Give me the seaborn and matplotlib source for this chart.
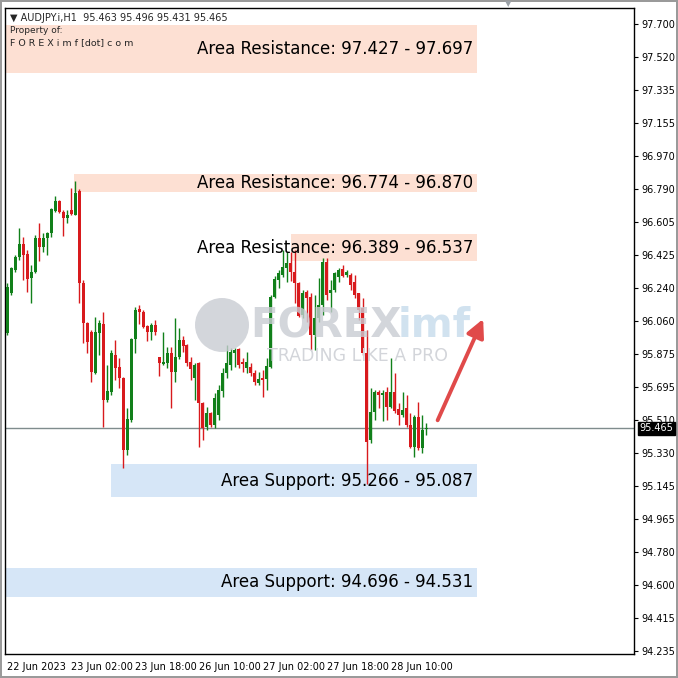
import numpy as np
import matplotlib
matplotlib.use("Agg")
import matplotlib.pyplot as plt
from matplotlib.patches import Rectangle, Circle
import seaborn as sns

# AUDJPY.i H1 candles, 22 Jun 10:00 -> 28 Jun 19:00
opens = [
    95.992, 96.213, 96.340, 96.413, 96.484, 96.429, 96.296, 96.329, 96.517, 96.467,
    96.517, 96.545, 96.666, 96.722, 96.661, 96.628, 96.672, 96.644, 96.777, 96.268,
    96.047, 95.998, 95.771, 95.992, 96.042, 95.622, 95.666, 95.871, 95.804, 95.743,
    95.346, 95.511, 95.959, 96.124, 96.108, 96.031, 95.998, 96.036, 95.860, 95.821,
    95.826, 95.882, 95.777, 95.860, 95.953, 95.926, 95.832, 95.743, 95.826, 95.605,
    95.473, 95.550, 95.484, 95.539, 95.672, 95.771, 95.815, 95.882, 95.904, 95.832,
    95.799, 95.804, 95.771, 95.716, 95.743, 95.738, 95.804, 96.191, 96.285, 96.313,
    96.351, 96.379, 96.329, 96.268, 96.091, 96.219, 96.191, 95.981, 96.075, 96.146,
    96.384, 96.213, 96.230, 96.302, 96.346, 96.313, 96.313, 96.274, 96.213, 96.130,
    95.882, 95.401, 95.556, 95.666, 95.650, 95.666, 95.583, 95.666, 95.572, 95.539,
    95.578, 95.484, 95.362, 95.528, 95.357, 95.463,
]
highs = [
    96.268, 96.357, 96.424, 96.572, 96.522, 96.451, 96.368, 96.534, 96.600, 96.545,
    96.550, 96.683, 96.749, 96.727, 96.672, 96.672, 96.794, 96.833, 96.788, 96.285,
    96.053, 96.009, 96.080, 96.064, 96.108, 95.815, 95.898, 95.953, 95.854, 95.749,
    95.578, 95.964, 96.135, 96.146, 96.119, 96.036, 96.047, 96.064, 95.860, 95.998,
    95.915, 95.915, 96.075, 96.020, 95.975, 95.931, 95.860, 95.826, 95.832, 95.611,
    95.583, 95.556, 95.661, 95.705, 95.799, 95.926, 95.909, 95.909, 95.909, 95.854,
    95.887, 95.826, 95.788, 95.777, 95.788, 95.854, 96.202, 96.307, 96.340, 96.451,
    96.440, 96.440, 96.451, 96.274, 96.230, 96.230, 96.213, 96.202, 96.296, 96.407,
    96.407, 96.285, 96.329, 96.351, 96.368, 96.340, 96.324, 96.313, 96.213, 96.186,
    96.009, 95.688, 95.677, 95.677, 95.677, 95.694, 95.854, 95.771, 95.605, 95.666,
    95.650, 95.550, 95.539, 95.611, 95.539, 95.496,
]
lows = [
    95.981, 96.202, 96.329, 96.396, 96.285, 96.219, 96.158, 96.324, 96.390, 96.440,
    96.424, 96.523, 96.661, 96.655, 96.528, 96.600, 96.644, 96.644, 96.158, 95.937,
    95.882, 95.721, 95.766, 95.871, 95.473, 95.611, 95.650, 95.732, 95.688, 95.248,
    95.318, 95.500, 95.882, 96.042, 96.020, 95.948, 95.953, 95.981, 95.755, 95.815,
    95.799, 95.578, 95.721, 95.849, 95.887, 95.810, 95.732, 95.622, 95.362, 95.401,
    95.456, 95.473, 95.467, 95.511, 95.639, 95.743, 95.788, 95.804, 95.799, 95.777,
    95.771, 95.755, 95.705, 95.705, 95.639, 95.677, 95.799, 96.186, 96.241, 96.302,
    96.274, 96.280, 96.158, 96.080, 96.075, 96.053, 95.898, 95.898, 96.053, 96.091,
    96.174, 96.108, 96.219, 96.274, 96.302, 96.302, 96.230, 96.186, 96.064, 95.871,
    95.160, 95.384, 95.511, 95.578, 95.506, 95.511, 95.578, 95.550, 95.484, 95.528,
    95.473, 95.357, 95.307, 95.346, 95.329, 95.431,
]
closes = [
    96.246, 96.351, 96.413, 96.484, 96.424, 96.291, 96.329, 96.517, 96.467, 96.517,
    96.545, 96.677, 96.722, 96.661, 96.628, 96.644, 96.650, 96.766, 96.268, 96.047,
    95.942, 95.777, 95.998, 96.047, 95.622, 95.672, 95.882, 95.799, 95.743, 95.346,
    95.517, 95.959, 96.119, 96.108, 96.025, 95.998, 96.036, 95.998, 95.826, 95.832,
    95.882, 95.777, 95.860, 95.953, 95.920, 95.826, 95.793, 95.815, 95.605, 95.467,
    95.550, 95.484, 95.633, 95.677, 95.771, 95.826, 95.887, 95.898, 95.815, 95.821,
    95.832, 95.771, 95.721, 95.738, 95.732, 95.810, 96.191, 96.291, 96.324, 96.357,
    96.379, 96.329, 96.268, 96.086, 96.213, 96.186, 95.981, 96.075, 96.146, 96.384,
    96.202, 96.230, 96.324, 96.340, 96.307, 96.329, 96.257, 96.202, 96.119, 95.882,
    95.390, 95.556, 95.666, 95.650, 95.661, 95.583, 95.666, 95.561, 95.539, 95.567,
    95.484, 95.362, 95.528, 95.357, 95.456, 95.465,
]

x_labels = ["22 Jun 2023", "23 Jun 02:00", "23 Jun 18:00", "26 Jun 10:00",
            "27 Jun 02:00", "27 Jun 18:00", "28 Jun 10:00"]
x_label_bars = [0, 16, 32, 48, 64, 80, 96]
y_ticks = [97.700, 97.520, 97.335, 97.155, 96.970, 96.790, 96.605, 96.425, 96.240, 96.060,
           95.875, 95.695, 95.510, 95.330, 95.145, 94.965, 94.780, 94.600, 94.415, 94.235]
last_price = 95.465

# zones: (low, high, first bar, label)
resistance_low = [97.427, 96.774, 96.389]
resistance_high = [97.697, 96.870, 96.537]
resistance_start = [-1, 16.75, 71]
support_low = [95.087, 94.531]
support_high = [95.266, 94.696]
support_start = [26, -1]
zone_end = 117.75

sns.set_theme(style="white")
plt.rcParams["font.family"] = ["DejaVu Sans"]

fig = plt.figure(figsize=(6.78, 6.78), dpi=100)
fig.patch.set_edgecolor("#9a9a9a")
fig.patch.set_linewidth(1.5)
ax = fig.add_axes([5 / 678, 24 / 678, 629 / 678, 646 / 678])

o = np.array(opens)
h = np.array(highs)
l = np.array(lows)
c = np.array(closes)
idx = np.arange(len(o))
colors = np.where(c >= o, "#11801a", "#d81a1d")

# zones
for lo, hi, x0 in zip(resistance_low, resistance_high, resistance_start):
    ax.add_patch(Rectangle((x0, lo), zone_end - x0, hi - lo, facecolor="#fde0d3",
                           edgecolor="none", zorder=0.5))
    ax.text(zone_end - 1, (lo + hi) / 2, f"Area Resistance: {lo:.3f} - {hi:.3f}",
            ha="right", va="center", fontsize=12, color="black", zorder=5)
for lo, hi, x0 in zip(support_low, support_high, support_start):
    ax.add_patch(Rectangle((x0, lo), zone_end - x0, hi - lo, facecolor="#d6e6f7",
                           edgecolor="none", zorder=0.5))
    ax.text(zone_end - 1, (lo + hi) / 2, f"Area Support: {hi:.3f} - {lo:.3f}",
            ha="right", va="center", fontsize=12, color="black", zorder=5)

# watermark
fig.patches.append(Circle((222 / 678, 1 - 325 / 678), 27 / 678, transform=fig.transFigure,
                          facecolor="#c9ccd3", edgecolor="none", alpha=0.8, zorder=1))
fig.text(250 / 678, 1 - 326 / 678, "FOREX", fontsize=29, fontweight="bold", color="#c9ccd3",
         alpha=0.8, va="center", ha="left", zorder=1)
fig.text(398 / 678, 1 - 326 / 678, "imf", fontsize=29, fontweight="bold", color="#c6dbec",
         alpha=0.8, va="center", ha="left", zorder=1)
fig.text(267 / 678, 1 - 356 / 678, "TRADING LIKE A PRO", fontsize=12.5, color="#d3d5da",
         va="center", ha="left", zorder=1)

# price line
ax.axhline(last_price, color="#7f8c8d", linewidth=1, zorder=1)

# candles
ax.vlines(idx, l, h, colors=colors, linewidth=1, zorder=3)
body = np.maximum(np.abs(c - o), 0.006)
ax.bar(idx, body, bottom=np.minimum(o, c), width=0.75, color=colors, linewidth=0, zorder=3)

# arrow
ax.annotate("", xy=(119.2, 96.07), xytext=(107.8, 95.51),
            arrowprops=dict(arrowstyle="-|>,head_length=0.9,head_width=0.45",
                            color="#e04a4a", linewidth=2.8, shrinkA=0, shrinkB=0),
            zorder=4)

ax.set_xlim(-0.6, 157)
ax.set_ylim(94.218, 97.789)

ax.yaxis.tick_right()
ax.set_yticks(y_ticks)
ax.set_yticklabels([f"{v:.3f}" for v in y_ticks])
ax.set_xticks(x_label_bars)
ax.set_xticklabels(x_labels, ha="left")
ax.tick_params(axis="both", which="major", labelsize=7, length=3, width=0.8,
               direction="out", colors="black", pad=2)
ax.tick_params(axis="x", pad=3)
for lab in ax.get_xticklabels():
    lab.set_x(lab.get_position()[0])
for s in ax.spines.values():
    s.set_color("black")
    s.set_linewidth(1)
ax.grid(False)

# current price tag
ax.annotate(f"{last_price:.3f}", xy=(1.0, last_price), xycoords=("axes fraction", "data"),
            xytext=(4, 0), textcoords="offset points", fontsize=7, color="white",
            va="center", ha="left",
            bbox=dict(boxstyle="square,pad=0.15", facecolor="black", edgecolor="black"),
            annotation_clip=False)

# header
ax.text(0.008, 0.993, "\u25bc AUDJPY.i,H1  95.463 95.496 95.431 95.465", transform=ax.transAxes,
        fontsize=7, va="top", ha="left", zorder=6)
ax.text(0.008, 0.972, "Property of:", transform=ax.transAxes, fontsize=6.5, va="top",
        ha="left", zorder=6)
ax.text(0.008, 0.954, "F O R E X i m f [dot] c o m", transform=ax.transAxes, fontsize=6.8,
        va="top", ha="left", zorder=6)

# chart shift marker
fig.text(508 / 678, 1 - 4 / 678, "\u25bc", fontsize=6, color="#9aa0a6", ha="center", va="center")

fig.savefig("out.png", dpi=100)
